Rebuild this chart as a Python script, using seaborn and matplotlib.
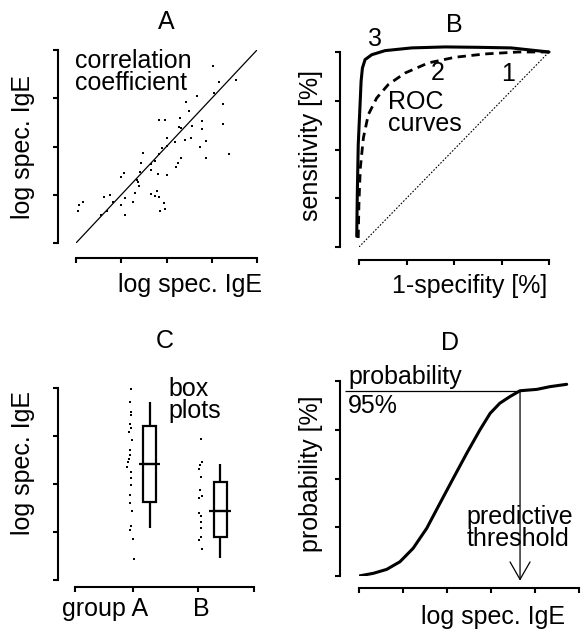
import numpy as np
import matplotlib.pyplot as plt
import matplotlib.transforms as mtrans
import pandas as pd
import seaborn as sns

# --- A: correlation of two log spec. IgE measurements
igE_x = [3.03, 3.17, 3.53, 3.05, 2.67, 2.43, 3.24, 2.50, 1.84, 1.96,
         2.30, 2.78, 3.25, 2.28, 2.32, 2.56, 2.78, 2.02, 2.54, 2.40,
         2.87, 2.18, 2.00, 1.91, 2.73, 1.49, 3.38, 1.83, 2.33, 2.87,
         1.43, 1.75, 2.25, 1.65, 2.21, 1.66, 1.41, 1.06, 0.99, 1.82,
         2.02, 1.34, 1.38, 1.40, 1.80, 1.30, 1.66, 1.74, 1.83, 0.76,
         0.62, 1.09, 0.82, 1.26, 1.94, 1.00, 0.16, 0.07, 0.05, 0.69,
         0.55, 1.09, 1.86, 1.97]
igE_y = [3.67, 3.34, 3.38, 3.10, 3.05, 2.92, 2.88, 2.74, 2.55, 2.55,
         2.60, 2.52, 2.47, 2.41, 2.38, 2.43, 2.36, 2.18, 2.18, 2.13,
         2.12, 2.09, 2.02, 1.96, 1.98, 1.87, 1.84, 1.84, 1.77, 1.76,
         1.65, 1.69, 1.65, 1.64, 1.58, 1.51, 1.48, 1.46, 1.37, 1.44,
         1.40, 1.31, 1.27, 1.19, 1.08, 1.04, 1.01, 0.98, 0.96, 0.99,
         0.95, 0.94, 0.84, 0.84, 0.83, 0.79, 0.84, 0.79, 0.67, 0.67,
         0.58, 0.59, 0.66, 0.70]
fit_x = [0, 4]
fit_y = [0, 4]

# --- B: ROC curves (1-specificity, sensitivity)
roc3_x = [-0.012, -0.009, -0.004, 0.004, 0.011, 0.018, 0.032, 0.067,
          0.137, 0.277, 0.453, 0.628, 0.80, 1.0]
roc3_y = [0.055, 0.268, 0.525, 0.696, 0.85, 0.918, 0.961, 0.986,
          1.007, 1.021, 1.026, 1.024, 1.021, 1.0]
roc2_x = [-0.004, 0.0, 0.007, 0.023, 0.049, 0.093, 0.154, 0.242,
          0.365, 0.505, 0.663, 0.838, 1.0]
roc2_y = [0.046, 0.234, 0.405, 0.559, 0.679, 0.764, 0.833, 0.892,
          0.944, 0.973, 0.99, 1.0, 1.0]
roc1_x = [0, 1]
roc1_y = [0, 1]

# --- C: single values and box plots per group
a_x = [0.945, 0.917, 0.933, 0.945, 0.917, 0.945, 0.90, 0.955, 0.928, 0.928,
       0.905, 0.888, 0.878, 0.945, 0.945, 0.945, 0.928, 0.928, 0.955, 0.945,
       0.912, 0.972, 0.988]
a_y = [3.97, 3.71, 3.51, 3.44, 3.26, 3.16, 3.09, 2.92, 2.71, 2.60,
       2.52, 2.46, 2.35, 2.25, 2.13, 1.98, 1.77, 1.60, 1.44, 1.12,
       1.04, 0.85, 0.43]
b_x = [2.10, 2.12, 2.09, 2.08, 2.10, 2.095, 2.12, 2.08, 2.07, 2.10,
       2.10, 2.10, 2.10, 2.07, 2.12]
b_y = [2.93, 2.46, 2.39, 2.31, 2.15, 1.875, 1.75, 1.70, 1.40, 1.33,
       1.21, 1.08, 0.89, 0.83, 0.64]
# five-number summaries (low whisker, q1, median, q3, high whisker)
box_a = [1.08, 1.625, 2.41, 3.21, 3.71]
box_b = [0.45, 0.89, 1.44, 2.05, 2.42]
group_labels = ['group A', 'B']

# --- D: probability curve
prob_x = [0.0, 0.33, 0.63, 0.93, 1.23, 1.54, 1.84, 2.14, 2.45, 2.75,
          2.98, 3.20, 3.43, 3.66, 4.04, 4.34, 4.72]
prob_y = [0.0, 0.014, 0.034, 0.073, 0.142, 0.245, 0.373, 0.50, 0.63, 0.75,
          0.834, 0.886, 0.92, 0.95, 0.957, 0.971, 0.983]
prob_level = 0.95
threshold = 3.66

sns.set_style('ticks', {'axes.edgecolor': 'black', 'xtick.color': 'black',
                        'ytick.color': 'black', 'text.color': 'black',
                        'axes.labelcolor': 'black'})
plt.rcParams['font.family'] = ['Liberation Sans', 'DejaVu Sans']
plt.rcParams['font.size'] = 18
plt.rcParams['axes.linewidth'] = 1.5

W, H = 581, 633
fig = plt.figure(figsize=(W / 100, H / 100), dpi=100)


def px_axes(x0, y0, x1, y1):
    return fig.add_axes([x0 / W, 1 - y1 / H, (x1 - x0) / W, (y1 - y0) / H])


def style(ax, xt, yt, left_off, bottom_off):
    ax.spines[['top', 'right']].set_visible(False)
    ax.spines['left'].set_position(('outward', left_off))
    ax.spines['bottom'].set_position(('outward', bottom_off))
    ax.set_xticks(xt)
    ax.set_yticks(yt)
    ax.set_xlim(xt[0], xt[-1])
    ax.set_ylim(yt[0], yt[-1])
    ax.tick_params(length=3.6, width=1.5, labelbottom=False, labelleft=False)
    ax.patch.set_visible(False)


fs = 18

# A
ax = px_axes(76, 50, 257, 243)
sns.scatterplot(x=igE_x, y=igE_y, ax=ax, color='black', s=4.5, marker='s',
                linewidth=0)
sns.lineplot(x=fit_x, y=fit_y, ax=ax, color='black', lw=0.9)
style(ax, np.arange(5), np.arange(5), 13, 10.8)
ax.set_title('A', fontsize=fs, pad=15)
ax.set_xlabel('log spec. IgE', fontsize=fs)
ax.set_ylabel('log spec. IgE', fontsize=fs)
ax.xaxis.set_label_coords(0.63, -0.157)
ax.yaxis.set_label_coords(-0.2265, 0.495)
# multi-line texts are anchored at the baseline of their last line
ax.text(-0.02, 3.17, 'correlation\ncoefficient', fontsize=fs, va='baseline',
        ha='left', linespacing=0.9)

# B
ax = px_axes(359, 52, 549, 247)
sns.lineplot(x=roc1_x, y=roc1_y, ax=ax, color='black', lw=0.8,
             linestyle=(0, (1.5, 1.5)))
sns.lineplot(x=roc2_x, y=roc2_y, ax=ax, color='black', lw=2.0, sort=False,
             linestyle=(0, (3, 2)), clip_on=False)
sns.lineplot(x=roc3_x, y=roc3_y, ax=ax, color='black', lw=2.2, sort=False,
             clip_on=False)
style(ax, np.linspace(0, 1, 5), np.linspace(0, 1, 5), 13.7, 9.4)
ax.set_title('B', fontsize=fs, pad=14.4)
ax.set_xlabel('1-specifity [%]', fontsize=fs)
ax.set_ylabel('sensitivity [%]', fontsize=fs)
ax.xaxis.set_label_coords(0.584, -0.138)
ax.yaxis.set_label_coords(-0.189, 0.518)
ax.text(0.084, 1.03, '3', fontsize=fs, ha='center', va='baseline')
ax.text(0.413, 0.856, '2', fontsize=fs, ha='center', va='baseline')
ax.text(0.787, 0.851, '1', fontsize=fs, ha='center', va='baseline')
ax.text(0.153, 0.593, 'ROC\ncurves', fontsize=fs, ha='left', va='baseline',
        linespacing=0.9)

# C
ax = px_axes(75, 388, 254.3, 580)
box_pos = [1.25, 2.43]
box_df = pd.DataFrame({'pos': [box_pos[0]] * 5 + [box_pos[1]] * 5,
                       'val': box_a + box_b})
sns.boxplot(data=box_df, x='pos', y='val', native_scale=True, orient='x',
            ax=ax, width=0.19, color='white', linecolor='black',
            linewidth=1.6, whis=(0, 100), showcaps=False, fliersize=0)
ax.hlines([np.median(box_a), np.median(box_b)],
          [p - 0.18 for p in box_pos], [p + 0.18 for p in box_pos],
          color='black', lw=1.6)
sns.scatterplot(x=a_x, y=a_y, ax=ax, color='black', s=4.5, marker='s',
                linewidth=0)
sns.scatterplot(x=b_x, y=b_y, ax=ax, color='black', s=4.5, marker='s',
                linewidth=0)
style(ax, [0, 0.97, 2.06, 3], np.arange(5), 12.2, 5)
ax.set_xticklabels([''] + group_labels + [''])
ax.tick_params(axis='x', labelbottom=True, labelsize=fs)
ax.set_xlabel('')
ax.set_title('C', fontsize=fs, pad=28.8)
ax.set_ylabel('log spec. IgE', fontsize=fs)
ax.yaxis.set_label_coords(-0.223, 0.61)
labs = ax.get_xticklabels()
labs[1].set_ha('right')
labs[1].set_transform(labs[1].get_transform() +
                      mtrans.ScaledTranslation(0.15, 0, fig.dpi_scale_trans))
labs[2].set_transform(labs[2].get_transform() +
                      mtrans.ScaledTranslation(0.03, 0, fig.dpi_scale_trans))
ax.text(1.556, 3.37, 'box\nplots', fontsize=fs, ha='left', va='baseline',
        linespacing=0.9)

# D
ax = px_axes(359, 381, 579, 576)
sns.lineplot(x=prob_x, y=prob_y, ax=ax, color='black', lw=2.2, sort=False)
style(ax, np.arange(6), np.linspace(0, 1, 5), 13.7, 8.6)
ax.hlines(prob_level, -0.32, threshold, color='black', lw=0.9, clip_on=False)
ax.annotate('', xy=(threshold, -0.024), xytext=(threshold, prob_level),
            arrowprops=dict(arrowstyle='->,head_length=0.7,head_width=0.4',
                            lw=0.9, color='black', shrinkA=0, shrinkB=0),
            annotation_clip=False)
ax.set_title('D', fontsize=fs, pad=22.3, x=0.415)
ax.set_xlabel('log spec. IgE', fontsize=fs)
ax.set_ylabel('probability [%]', fontsize=fs)
ax.xaxis.set_label_coords(0.611, -0.148)
ax.yaxis.set_label_coords(-0.164, 0.526)
ax.text(-0.25, 0.985, 'probability', fontsize=fs, ha='left', va='baseline')
ax.text(-0.25, 0.834, '95%', fontsize=fs, ha='left', va='baseline')
ax.text(2.45, 0.154, 'predictive\nthreshold', fontsize=fs, ha='left',
        va='baseline', linespacing=0.9)

fig.savefig('out.png', dpi=100)
